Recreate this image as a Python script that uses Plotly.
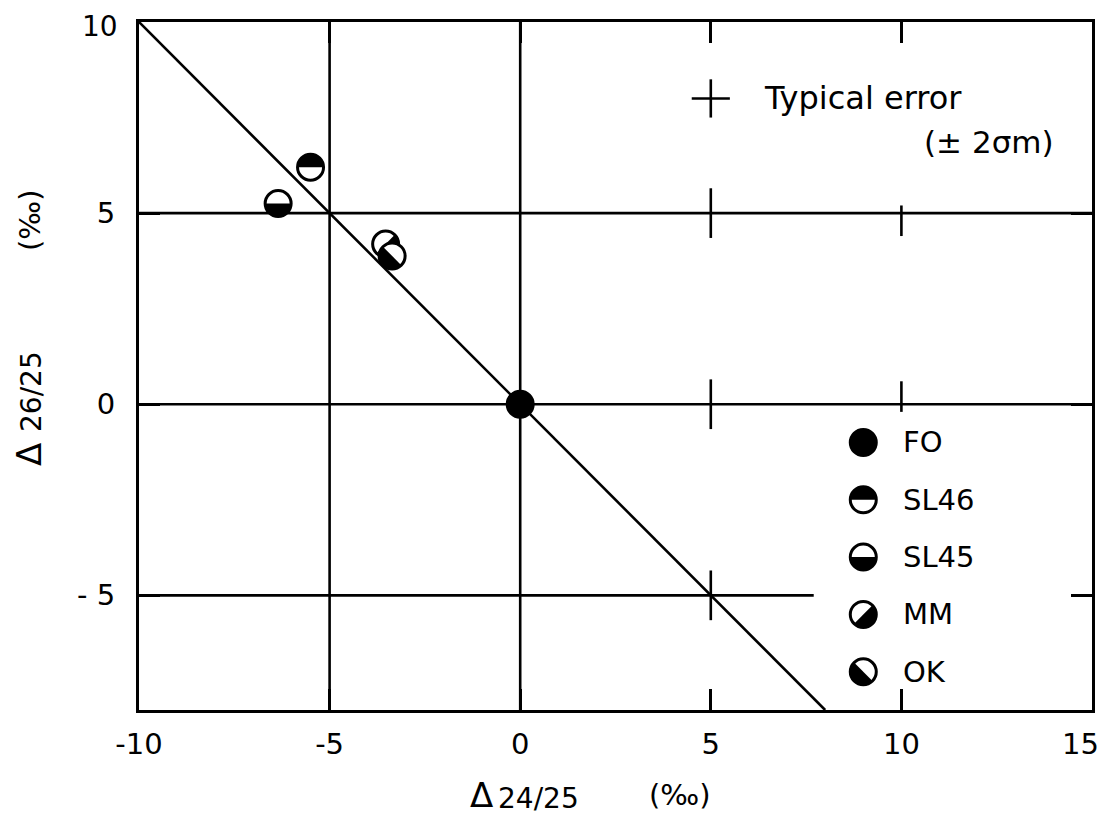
import numpy as np
import plotly.graph_objects as go

# ---------------- data ----------------
samples = ["FO", "SL46", "SL45", "MM", "OK"]
delta_24_25 = [0.0, -5.5, -6.35, -3.53, -3.36]
delta_26_25 = [0.0, 6.2, 5.25, 4.19, 3.88]

x_tick_vals = [-10, -5, 0, 5, 10, 15]
x_tick_text = ["-10", "-5", "0", "5", "10", "15"]
y_tick_vals = [-5, 0, 5, 10]
y_tick_text = ["- 5", "0", "5", "10"]

typical_error_half = 0.5   # +/- 2 sigma_m, in per mil

# ---------------- style ----------------
FONT = "DejaVu Sans"
X_RANGE = [-10, 15]
Y_RANGE = [-8, 10]
BODY = 8                      # default page margin around the plot div
W, H = 1105 - BODY, 818 - BODY
PL, PR, PT, PB = 139, 1092, 22, 710      # plot-area edges in page pixels
ML, MR, MT, MB = PL - BODY, BODY + W - PR, PT - BODY, BODY + H - PB
fill_style = {"FO": "full", "SL46": 90, "SL45": 270, "MM": -45, "OK": 225}
R_HALF = 0.35
MSIZE = 26
LW = 2.6

fig = go.Figure()


def add_marker(x, y, style):
    if style == "full":
        fig.add_trace(go.Scatter(x=[x], y=[y], mode="markers",
                                 marker=dict(symbol="circle", size=MSIZE, color="black",
                                             line=dict(color="black", width=3)),
                                 showlegend=False, hoverinfo="skip"))
        return
    fig.add_trace(go.Scatter(x=[x], y=[y], mode="markers",
                             marker=dict(symbol="circle", size=MSIZE, color="white",
                                         line=dict(color="black", width=3)),
                             showlegend=False, hoverinfo="skip"))
    t = np.radians(np.linspace(style - 90, style + 90, 40))
    px = list(x + R_HALF * np.cos(t)) + [x + R_HALF * np.cos(t[0])]
    py = list(y + R_HALF * np.sin(t)) + [y + R_HALF * np.sin(t[0])]
    fig.add_trace(go.Scatter(x=px, y=py, mode="lines", fill="toself",
                             fillcolor="black", line=dict(width=0, color="black"),
                             showlegend=False, hoverinfo="skip"))


# reference line y = -x within the axes
line_x = [X_RANGE[0], -Y_RANGE[0]]
fig.add_trace(go.Scatter(x=line_x, y=[-v for v in line_x], mode="lines",
                         line=dict(color="black", width=LW),
                         showlegend=False, hoverinfo="skip"))

# data points
for s, xv, yv in zip(samples, delta_24_25, delta_26_25):
    add_marker(xv, yv, fill_style[s])

# typical error cross
ex, ey = 5.0, 8.0
fig.add_trace(go.Scatter(x=[ex - typical_error_half, ex + typical_error_half, None, ex, ex],
                         y=[ey, ey, None, ey - typical_error_half, ey + typical_error_half],
                         mode="lines", line=dict(color="black", width=LW),
                         showlegend=False, hoverinfo="skip"))

# hand-made legend
leg_x, leg_text_x = 9.0, 10.0
leg_y = [-1.0, -2.5, -4.0, -5.5, -7.0]
for s, ly in zip(samples, leg_y):
    add_marker(leg_x, ly, fill_style[s])
    fig.add_annotation(x=leg_text_x, y=ly, text=s, showarrow=False, xanchor="left",
                       yanchor="middle", font=dict(family=FONT, size=29, color="black"))

# grid lines (partial, as drawn in the original)
grid = [
    (-5, Y_RANGE[0], -5, Y_RANGE[1]),
    (0, Y_RANGE[0], 0, Y_RANGE[1]),
    (X_RANGE[0], 5, X_RANGE[1], 5),
    (X_RANGE[0], 0, X_RANGE[1], 0),
    (X_RANGE[0], -5, 7.7, -5),
    (5, 4.35, 5, 5.65), (5, -0.65, 5, 0.65), (5, -5.65, 5, -4.35),
    (10, 4.4, 10, 5.2), (10, -0.2, 10, 0.6),
]
for x0, y0, x1, y1 in grid:
    fig.add_shape(type="line", x0=x0, y0=y0, x1=x1, y1=y1, xref="x", yref="y",
                  line=dict(color="black", width=LW), layer="below")

fig.add_annotation(x=6.35, y=8.0, text="Typical error", showarrow=False, xanchor="left",
                   yanchor="middle", font=dict(family=FONT, size=32, color="black"))
fig.add_annotation(x=10.55, y=6.85, text="(± 2σm)", showarrow=False, xanchor="left",
                   yanchor="middle", font=dict(family=FONT, size=31, color="black"))


def xp(px):
    return (px - PL) / (PR - PL)


def yp(py):
    return (PB - py) / (PB - PT)


def paper_text(px, py, text, size, angle=0, xanchor="center"):
    fig.add_annotation(x=xp(px), y=yp(py), xref="paper", yref="paper", text=text,
                       showarrow=False, xanchor=xanchor, yanchor="middle", textangle=angle,
                       font=dict(family=FONT, size=size, color="black"))


# edge tick labels drawn nudged inward so they stay on the page (as in the original)
paper_text(1080, 744, x_tick_text[-1], 29)
paper_text(120, 26, y_tick_text[-1], 28, xanchor="right")

# axis titles
paper_text(481, 795, "Δ", 34)
paper_text(538, 798, "24/25", 28)
paper_text(680, 795, "(‰)", 29)
paper_text(29, 455, "Δ", 34, -90)
paper_text(31, 392, "26/25", 28, -90)
paper_text(30, 220, "(‰)", 29, -90)

axis_common = dict(showgrid=False, zeroline=False, showline=True, linecolor="black", linewidth=3,
                   mirror="allticks", ticks="inside", ticklen=21, tickwidth=LW, tickcolor="black",
                   tickfont=dict(family=FONT, size=29, color="black"), ticklabeloverflow="allow",
                   automargin=False)

fig.update_xaxes(range=X_RANGE, tickvals=x_tick_vals,
                 ticktext=x_tick_text[:-1] + [""], ticklabelstandoff=6, **axis_common)
fig.update_yaxes(range=Y_RANGE, tickvals=y_tick_vals, ticktext=y_tick_text[:-1] + [""],
                 ticklabelstandoff=15, **axis_common)

fig.update_layout(width=W, height=H, margin=dict(l=ML, r=MR, t=MT, b=MB),
                  plot_bgcolor="white", paper_bgcolor="white", showlegend=False)

fig.write_html("out.html")
